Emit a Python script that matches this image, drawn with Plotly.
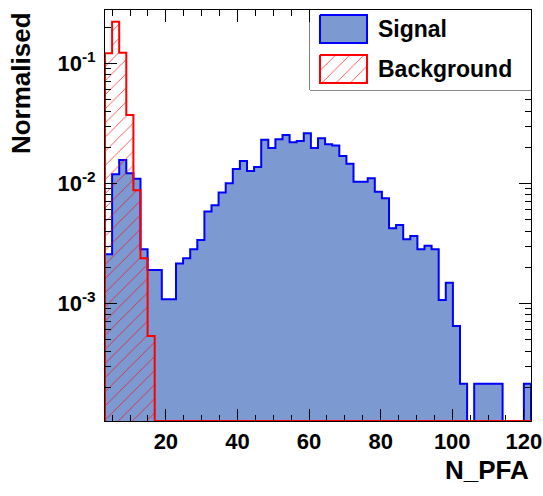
import plotly.graph_objects as go

# ---------------- data ----------------
X_MIN, X_MAX, N_BINS = 3.0, 122.0, 60

SIGNAL = [
    0.00256, 0.0119, 0.0156, 0.0121, 0.0109, 0.00282, 0.00189, 0.00189, 0.00108, 0.00108,
    0.00215, 0.00237, 0.00282, 0.00337, 0.00581, 0.00655, 0.00836, 0.0100, 0.01315, 0.01535,
    0.01266, 0.01368, 0.0230, 0.0197, 0.0233, 0.0253, 0.0220, 0.0225, 0.0261, 0.0197,
    0.0237, 0.0211, 0.0206, 0.01688, 0.01457, 0.0103, 0.0103, 0.0110, 0.00851, 0.0075,
    0.00422, 0.00449, 0.00341, 0.00364, 0.00282, 0.00302, 0.00282, 0.001065, 0.001485, 0.000647,
    0.000213, 0.0, 0.000213, 0.000213, 0.000213, 0.000213, 0.0, 0.0, 0.0, 0.000213,
]
BACKGROUND = [
    0.121, 0.222, 0.1225, 0.0371, 0.00874, 0.00237, 0.000535, 0, 0, 0,
] + [0.0] * 50

X_TICKS = [20, 40, 60, 80, 100, 120]
X_MINOR = [v for v in range(5, 125, 5) if v % 20 != 0]
Y_TICKS = [1e-3, 1e-2, 1e-1]
Y_TICK_TEXT = ["10<sup>-3</sup>", "10<sup>-2</sup>", "10<sup>-1</sup>"]
Y_MINOR = [m * 10.0 ** e for e in (-4, -3, -2, -1) for m in range(2, 10)]
Y_RANGE = [-3.981, -0.556]

SIG_FILL = "rgb(125,153,209)"
SIG_LINE = "rgb(0,0,255)"
BKG_LINE = "rgb(255,0,0)"
FONT = "Liberation Sans, Arial, Helvetica, sans-serif"

# ---------------- histogram step shapes ----------------
floor = 10 ** Y_RANGE[0]
width = (X_MAX - X_MIN) / N_BINS
edges = [X_MIN + i * width for i in range(N_BINS + 1)]


def steps(values):
    xs, ys = [edges[0]], [floor]
    for i, v in enumerate(values):
        v = max(v, floor)
        xs += [edges[i], edges[i + 1]]
        ys += [v, v]
    xs.append(edges[-1])
    ys.append(floor)
    return xs, ys


HATCH = dict(shape="/", fgcolor=BKG_LINE, bgcolor="rgba(0,0,0,0)",
             size=10, solidity=0.08, fgopacity=0.8)

fig = go.Figure()

sx, sy = steps(SIGNAL)
fig.add_trace(go.Scatter(x=sx, y=sy, mode="lines", fill="toself", fillcolor=SIG_FILL,
                         line=dict(color=SIG_LINE, width=2), hoverinfo="skip",
                         showlegend=False, name="Signal"))
bx, by = steps(BACKGROUND)
fig.add_trace(go.Scatter(x=bx, y=by, mode="lines", fill="toself",
                         fillcolor="rgba(0,0,0,0)", fillpattern=HATCH,
                         line=dict(color=BKG_LINE, width=2), hoverinfo="skip",
                         showlegend=False, name="Background"))

# ---------------- custom ROOT-like legend ----------------
LEG_X = [0.4812, 1.0]
LEG_Y = [0.8054, 1.0]
legend_items = [("Signal", 19), ("Background", 59)]
for name, yc in legend_items:
    x0, x1, y0, y1 = 10, 57, yc - 14, yc + 14
    if name == "Signal":
        kw = dict(fillcolor=SIG_FILL, line=dict(color=SIG_LINE, width=2))
    else:
        kw = dict(fillcolor="rgba(0,0,0,0)", fillpattern=HATCH,
                  line=dict(color=BKG_LINE, width=2))
    fig.add_trace(go.Scatter(x=[x0, x1, x1, x0, x0], y=[y0, y0, y1, y1, y0], mode="lines",
                             fill="toself", xaxis="x5", yaxis="y5", hoverinfo="skip",
                             showlegend=False, **kw))
    fig.add_annotation(x=66, y=yc, xref="x5", yref="y5", text=name, showarrow=False,
                       xanchor="left", yanchor="middle",
                       font=dict(family=FONT, size=23, color="black", weight="bold"))

fig.add_shape(type="rect", xref="paper", yref="paper", x0=LEG_X[0], x1=LEG_X[1],
              y0=LEG_Y[0], y1=LEG_Y[1], line=dict(color="black", width=1),
              fillcolor="white", layer="below")

# ---------------- axes ----------------
fig.update_layout(
    width=543, height=496,
    margin=dict(l=105, r=12, t=10, b=75, autoexpand=False),
    paper_bgcolor="white", plot_bgcolor="white",
    font=dict(family=FONT, color="black", weight="bold"),
    xaxis=dict(range=[X_MIN, X_MAX], tickmode="array", tickvals=X_TICKS, automargin=False,
               ticks="inside", ticklen=12, tickwidth=1, tickcolor="black",
               minor=dict(tickmode="array", tickvals=X_MINOR, ticks="inside", ticklen=6,
                          tickwidth=1, tickcolor="black"),
               showline=True, linecolor="black", linewidth=1, mirror="allticks",
               showgrid=False, zeroline=False, ticklabelstandoff=1,
               tickfont=dict(family=FONT, size=22, color="black", weight="bold")),
    yaxis=dict(type="log", range=Y_RANGE, tickmode="array", tickvals=Y_TICKS,
               ticktext=Y_TICK_TEXT, automargin=False,
               ticks="inside", ticklen=12, tickwidth=1, tickcolor="black",
               minor=dict(tickmode="array", tickvals=Y_MINOR, ticks="inside", ticklen=6,
                          tickwidth=1, tickcolor="black"),
               showline=True, linecolor="black", linewidth=1, mirror="allticks",
               showgrid=False, zeroline=False, ticklabelstandoff=4,
               tickfont=dict(family=FONT, size=22, color="black", weight="bold")),
    xaxis5=dict(domain=LEG_X, range=[0, 221], visible=False, anchor="y5", fixedrange=True),
    yaxis5=dict(domain=LEG_Y, range=[80, 0], visible=False, anchor="x5", fixedrange=True),
)

fig.add_annotation(x=-0.197, y=1.0, xref="paper", yref="paper", text="Normalised",
                   textangle=-90, showarrow=False, xanchor="center", yanchor="top",
                   font=dict(family=FONT, size=26, color="black", weight="bold"))
fig.add_annotation(x=1.0, y=-0.1192, xref="paper", yref="paper", text="N_PFA",
                   showarrow=False, xanchor="right", yanchor="middle",
                   font=dict(family=FONT, size=26, color="black", weight="bold"))

fig.write_html("out.html", config={"displayModeBar": False},
               post_script="document.body.style.margin='0';document.body.style.padding='0';")
